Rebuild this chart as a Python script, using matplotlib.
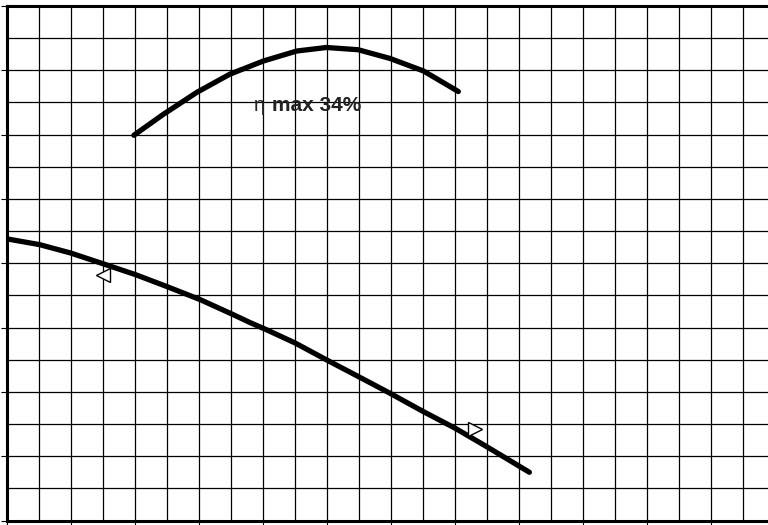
import matplotlib
matplotlib.use("Agg")
import matplotlib.pyplot as plt

# efficiency curve (grid units)
eta_x = [3.98, 4.9, 5.94, 6.98, 8.03, 9.07, 10.0, 10.99, 11.98, 13.03, 14.12]
eta_y = [11.98, 12.63, 13.31, 13.88, 14.29, 14.6, 14.71, 14.64, 14.37, 13.98, 13.34]

# head curve
head_x = [0.0, 1.03, 2.0, 3.03, 4.02, 5.0, 6.05, 7.09, 7.6, 8.13, 9.02, 10.03,
          10.99, 11.98, 13.02, 14.02, 15.0, 16.34]
head_y = [8.76, 8.58, 8.32, 7.98, 7.65, 7.28, 6.87, 6.4, 6.16, 5.93, 5.52, 4.98,
          4.48, 3.96, 3.39, 2.87, 2.3, 1.5]

# operating range markers
left_mark = (3.0, 7.63)
right_mark = (14.64, 2.83)

label_eta = "η"
label_max = "max 34%"

plt.rcParams["font.family"] = ["Liberation Sans", "DejaVu Sans"]

fig = plt.figure(figsize=(7.68, 5.25), dpi=100)
ax = fig.add_axes([6.5 / 768, 4.5 / 525, 1.0, 514.5 / 525])
ax.set_xlim(0, 24)
ax.set_ylim(0, 16)

# fine grid every unit
for gx in range(1, 24):
    ax.axvline(gx, color="black", lw=0.9, zorder=1)
for gy in range(1, 16):
    ax.axhline(gy, color="black", lw=0.9, zorder=1)

ax.set_xticks(range(0, 25, 2))
ax.set_yticks(range(0, 17, 2))
ax.set_xticklabels([])
ax.set_yticklabels([])
ax.tick_params(direction="out", length=4, width=0.8, color="black")

for side in ["left", "top", "bottom"]:
    ax.spines[side].set_linewidth(2.2)
ax.spines["right"].set_visible(False)

for xs, ys in [(eta_x, eta_y), (head_x, head_y)]:
    ax.plot(xs, ys, color="black", lw=3.8, solid_capstyle="round",
            solid_joinstyle="round", zorder=3)

ax.plot(*left_mark, marker="<", ms=10, mfc="white", mec="black", mew=1, zorder=4)
ax.plot(*right_mark, marker=">", ms=10, mfc="white", mec="black", mew=1, zorder=4)

ax.text(7.72, 12.73, label_eta, fontsize=14.5, color="#222222", va="baseline", zorder=5)
ax.text(8.3, 12.73, label_max, fontsize=15, fontweight="bold", color="#222222",
        va="baseline", zorder=5)

fig.savefig("out.png", dpi=100)
